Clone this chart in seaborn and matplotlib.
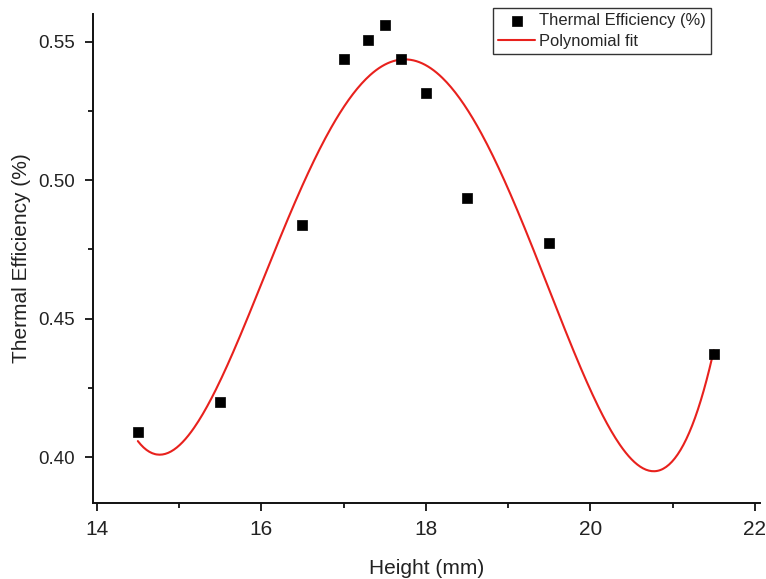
import numpy as np
import pandas as pd
import matplotlib
matplotlib.use("Agg")
import matplotlib.pyplot as plt
import seaborn as sns
from matplotlib.ticker import AutoMinorLocator

# Measured thermal efficiency against height
height_mm = [14.5, 15.5, 16.5, 17.0, 17.3, 17.5, 17.7, 18.0, 18.5, 19.5, 21.5]
efficiency = [0.409, 0.420, 0.484, 0.5436, 0.5506, 0.5559, 0.5436, 0.5316, 0.4937, 0.4775, 0.4372]

x_ticks = [14, 16, 18, 20, 22]
y_ticks = [0.40, 0.45, 0.50, 0.55]

sns.set_theme(style="ticks")
plt.rcParams["font.family"] = ["Liberation Sans", "DejaVu Sans"]

df = pd.DataFrame({"Height (mm)": height_mm, "Thermal Efficiency (%)": efficiency})

# 4th-order least-squares polynomial through the measurements
coef = np.polyfit(height_mm, efficiency, 4)
x_fit = np.linspace(min(height_mm), max(height_mm), 400)
fit_df = pd.DataFrame({"x": x_fit, "y": np.polyval(coef, x_fit)})

fig = plt.figure(figsize=(7.66, 5.79), dpi=100)
ax = fig.add_axes([0.1214, 0.1313, 0.8706, 0.8445])

sns.lineplot(data=fit_df, x="x", y="y", ax=ax, color="#e8211d", linewidth=1.5,
             label="Polynomial fit", zorder=2)
sns.scatterplot(data=df, x="Height (mm)", y="Thermal Efficiency (%)", ax=ax,
                marker="s", s=60, color="black", edgecolor="black", linewidth=0.5,
                label="Thermal Efficiency (%)", zorder=3)

ax.set_xlim(13.955, 22.06)
ax.set_ylim(0.3835, 0.560)
ax.set_xticks(x_ticks)
ax.set_yticks(y_ticks)
ax.set_yticklabels([f"{v:.2f}" for v in y_ticks])
ax.xaxis.set_minor_locator(AutoMinorLocator(2))
ax.yaxis.set_minor_locator(AutoMinorLocator(2))

sns.despine(ax=ax)
for s in ["left", "bottom"]:
    ax.spines[s].set_linewidth(1.4)
    ax.spines[s].set_color("#111111")

ax.tick_params(which="major", direction="out", length=6, width=1.3, color="#111111",
               labelcolor="#222222")
ax.tick_params(which="minor", direction="out", length=3.5, width=1.3, color="#111111")
ax.tick_params(axis="x", which="major", labelsize=15, pad=6)
ax.tick_params(axis="y", which="major", labelsize=13.5, pad=7)

ax.set_xlabel("Height (mm)", fontsize=15, color="#222222", labelpad=15)
ax.set_ylabel("Thermal Efficiency (%)", fontsize=15, color="#222222", labelpad=5)

handles, labels = ax.get_legend_handles_labels()
order = [labels.index("Thermal Efficiency (%)"), labels.index("Polynomial fit")]
leg = ax.legend([handles[i] for i in order], [labels[i] for i in order],
                loc="upper right", bbox_to_anchor=(711 / 766, 1 - 8 / 579),
                bbox_transform=fig.transFigure, fontsize=11.9, frameon=True,
                fancybox=False, edgecolor="#333333", framealpha=1,
                borderpad=0.32, labelspacing=0.35, handlelength=2.2,
                handletextpad=0.25, borderaxespad=0)
leg.get_frame().set_linewidth(1.0)

fig.savefig("out.png", dpi=100)
